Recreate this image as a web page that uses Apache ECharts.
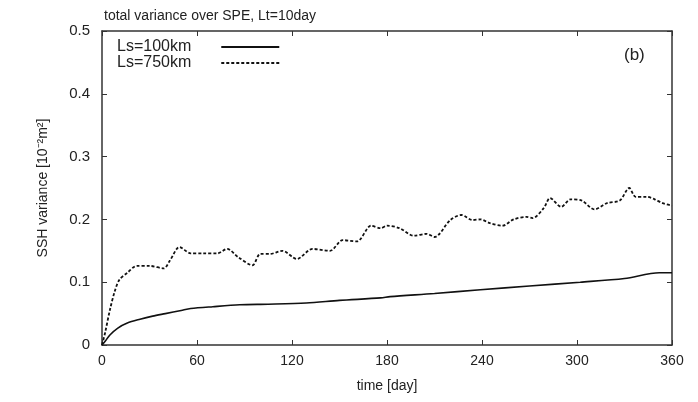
<!DOCTYPE html>
<html>
<head>
<meta charset="utf-8">
<script src="https://cdn.jsdelivr.net/npm/echarts@6/dist/echarts.min.js"></script>
<style>
  html, body { margin: 0; padding: 0; background: #fff; }
  #chart { width: 698px; height: 402px; }
</style>
</head>
<body>
<div id="chart"></div>
<script>
// 数据
const xTicks = [0, 60, 120, 180, 240, 300, 360]
const yTicks = [0, 0.1, 0.2, 0.3, 0.4, 0.5]

const days100 = [0, 2, 5, 10, 16, 24, 32, 40, 50, 56, 70, 87, 105, 129, 150, 176, 182, 210, 239, 270, 302, 330, 352, 360]
const var100 = [0, 0.006, 0.016, 0.027, 0.035, 0.041, 0.046, 0.05, 0.055, 0.058, 0.061, 0.064, 0.065, 0.067, 0.071, 0.075, 0.077, 0.082, 0.088, 0.094, 0.1, 0.106, 0.115, 0.115]

const days750 = [0, 2, 5, 8, 11, 16, 22, 30, 39, 43, 49, 56, 64, 73, 79, 86, 95, 100, 106, 114, 123, 133, 144, 152, 161, 170, 176, 180, 188, 197, 205, 210, 220, 227, 234, 239, 245, 253, 260, 268, 272, 279, 283, 290, 296, 303, 311, 319, 327, 333, 337, 344, 349, 354, 360]
const var750 = [0, 0.02, 0.056, 0.085, 0.104, 0.115, 0.126, 0.126, 0.122, 0.135, 0.156, 0.146, 0.146, 0.146, 0.153, 0.14, 0.127, 0.145, 0.145, 0.15, 0.137, 0.153, 0.15, 0.167, 0.165, 0.19, 0.186, 0.19, 0.186, 0.174, 0.177, 0.172, 0.199, 0.207, 0.199, 0.2, 0.194, 0.19, 0.2, 0.204, 0.202, 0.218, 0.234, 0.22, 0.232, 0.23, 0.216, 0.226, 0.23, 0.25, 0.236, 0.236, 0.232, 0.226, 0.222]

const chart = echarts.init(document.getElementById('chart'))
const txt = '#222'
const axLine = { show: true, onZero: false, lineStyle: { color: '#333', width: 1.5 } }
const tick = { show: true, inside: true, length: 5, lineStyle: { color: '#333', width: 1 } }
const font = 'Liberation Sans, Arial, sans-serif'

const pairs = (xs, ys) => xs.map((x, i) => [x, ys[i]])

const option = {
  backgroundColor: '#fff',
  animation: false,
  textStyle: { fontFamily: font },
  title: {
    text: 'total variance over SPE, Lt=10day',
    left: 99,
    top: 4,
    textStyle: { fontSize: 14, fontWeight: 'normal', color: txt, fontFamily: font }
  },
  grid: { left: 102, right: 26, top: 31, bottom: 57 },
  legend: {
    orient: 'vertical',
    left: 115,
    top: 37,
    align: 'right',
    itemWidth: 58,
    itemHeight: 14,
    itemGap: 0,
    padding: 2,
    itemStyle: { opacity: 0 },
    textStyle: { fontSize: 16, lineHeight: 16, color: txt, fontFamily: font, padding: [0, 25, 0, 0] },
    data: ['Ls=100km', 'Ls=750km']
  },
  xAxis: [
    {
      type: 'value', min: 0, max: 360, interval: 60,
      name: 'time [day]', nameLocation: 'middle', nameGap: 34,
      nameTextStyle: { fontSize: 14, color: txt },
      axisLine: axLine, axisTick: tick,
      axisLabel: { color: txt, fontSize: 14, margin: 9, customValues: xTicks },
      splitLine: { show: false }
    },
    {
      type: 'value', min: 0, max: 360, interval: 60, position: 'top',
      axisLine: axLine, axisTick: tick, axisLabel: { show: false }, splitLine: { show: false }
    }
  ],
  yAxis: [
    {
      type: 'value', min: 0, max: 0.5, interval: 0.1,
      name: 'SSH variance [10⁻²m²]', nameLocation: 'middle', nameGap: 52, nameRotate: 90,
      nameTextStyle: { fontSize: 14, color: txt },
      axisLine: axLine, axisTick: tick,
      axisLabel: {
        color: txt, fontSize: 15, margin: 12,
        formatter: v => (v === 0 ? '0' : v.toFixed(1))
      },
      splitLine: { show: false }
    },
    {
      type: 'value', min: 0, max: 0.5, interval: 0.1, position: 'right',
      axisLine: axLine, axisTick: tick, axisLabel: { show: false }, splitLine: { show: false }
    }
  ],
  graphic: [
    {
      type: 'text', left: 624, top: 47,
      style: { text: '(b)', fontSize: 17, fill: txt, fontFamily: font }
    }
  ],
  series: [
    {
      name: 'Ls=100km',
      type: 'line',
      showSymbol: false,
      symbol: 'none',
      smooth: 0.3,
      lineStyle: { color: '#111', width: 1.6, type: 'solid' },
      itemStyle: { color: '#111' },
      data: pairs(days100, var100)
    },
    {
      name: 'Ls=750km',
      type: 'line',
      showSymbol: false,
      symbol: 'none',
      smooth: 0.3,
      lineStyle: { color: '#111', width: 1.8, type: [3, 2] },
      itemStyle: { color: '#111' },
      data: pairs(days750, var750)
    }
  ]
}
chart.setOption(option)
</script>
</body>
</html>
